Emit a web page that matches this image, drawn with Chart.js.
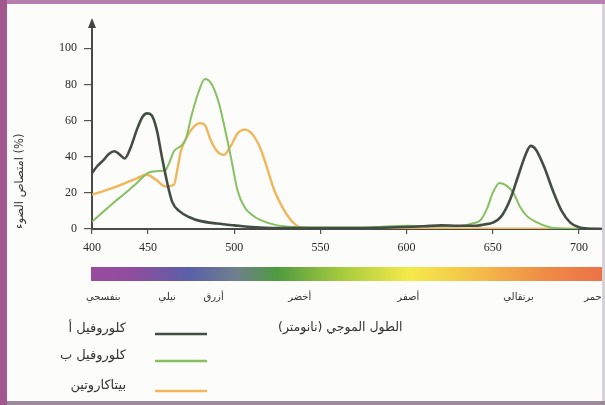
<!DOCTYPE html>
<html lang="ar">
<head>
    <meta charset="UTF-8">
    <title>امتصاص الضوء</title>
    <script src="https://cdn.jsdelivr.net/npm/chart.js"></script>
    <style>
        body {
            margin: 0;
            background: #fcfcfa;
            width: 605px;
            height: 405px;
            overflow: hidden;
            position: relative;
            font-family: "DejaVu Sans", sans-serif;
        }
        .box { position: absolute; left: 0; top: 0; width: 605px; height: 405px; }
        /* page edges of the scan */
        .edge { position: absolute; }
        .edge.left { left: 0; top: 0; width: 7px; height: 405px; background: #a2588f; }
        .edge.top { left: 0; top: 0; width: 605px; height: 4px; background: #b67fad; }
        .edge.bottom { left: 0; bottom: 0; width: 605px; height: 4px; background: #9c8a9c; }
        .edge.right { right: 0; top: 0; width: 3px; height: 405px; background: #d6d3d6; }
    </style>
</head>
<body>
    <div class="box"><canvas id="absorb"></canvas></div>
    <div class="edge right"></div>
    <div class="edge top"></div>
    <div class="edge bottom"></div>
    <div class="edge left"></div>

    <script>
        // wavelength (nm) / absorption (%)
        var chlA_nm  = [400, 405, 410, 415, 420, 425, 429, 435, 440, 445, 449, 452, 455, 458, 461, 464, 468, 474, 480, 490, 500, 515, 530, 560, 590, 610, 620, 630, 640, 645, 650, 655, 660, 665, 669, 672, 675, 680, 685, 690, 695, 700, 705, 714];
        var chlA_val = [31, 35, 38, 41.5, 43, 41, 39, 46, 55, 62, 64, 63, 55, 40, 26, 15, 10, 6.5, 4.5, 3, 2, 0.8, 0.5, 0.5, 0.8, 1.5, 2, 1.8, 1.8, 2.5, 3.5, 7, 16, 30, 41, 46, 44, 34, 21, 10, 3.5, 1, 0.3, 0];

        var chlB_nm  = [400, 410, 420, 430, 440, 450, 455, 460, 462, 465, 469, 472, 475, 479, 483, 487, 491, 494, 498, 502, 506, 510, 515, 525, 540, 560, 580, 600, 615, 630, 638, 643, 647, 650, 654, 658, 662, 666, 670, 675, 683, 690, 714];
        var chlB_val = [4, 9.5, 15, 20, 25.5, 31, 32, 32.5, 36, 43, 46, 50, 62, 75, 83, 80, 70, 58, 40, 21, 12, 8, 5, 2, 1, 0.8, 1, 1.8, 1.5, 1.5, 3, 5, 12, 20, 25.5, 24, 20, 12, 7, 4, 1, 0.3, 0];

        var carot_nm  = [400, 410, 420, 430, 440, 448, 451, 455, 460, 465, 467, 469, 472, 476, 480, 483, 486, 490, 494, 498, 502, 506, 510, 515, 519, 523, 528, 532, 536, 540, 560, 714];
        var carot_val = [19, 21, 23, 25.5, 28, 30, 29.5, 27, 23.5, 24.5, 33, 43, 50, 56, 58.5, 57.5, 50, 43, 41, 46, 53, 55, 53, 45, 34, 22, 12, 6, 2, 0.5, 0.3, 0];

        var seriesNames = ['كلوروفيل أ', 'كلوروفيل ب', 'بيتاكاروتين'];
        var yTicks = [0, 20, 40, 60, 80, 100];
        var xTicks = [400, 450, 500, 550, 600, 650, 700];

        // colour names under the spectrum bar, placed at a wavelength
        var colourNames = ['بنفسجي', 'نيلي', 'أزرق', 'أخضر', 'أصفر', 'برتقالي', 'أحمر'];
        var colourAt_nm = [410, 461, 488, 538, 601, 665, 709];

        // the printed axis squeezes 400-450 compared with the rest
        var KNEE_NM = 450;
        var KNEE_SQUEEZE = 0.651;

        class PiecewiseScale extends Chart.LinearScale {
            _frac(v) {
                var a = this.min, b = this.max;
                var total = (KNEE_NM - a) * KNEE_SQUEEZE + (b - KNEE_NM);
                if (v <= KNEE_NM) return (v - a) * KNEE_SQUEEZE / total;
                return ((KNEE_NM - a) * KNEE_SQUEEZE + (v - KNEE_NM)) / total;
            }
            getPixelForValue(value) {
                if (value === null || value === undefined) return NaN;
                return this.getPixelForDecimal(this._frac(value));
            }
            getValueForPixel(pixel) {
                var d = this.getDecimalForPixel(pixel);
                var a = this.min, b = this.max;
                var total = (KNEE_NM - a) * KNEE_SQUEEZE + (b - KNEE_NM);
                var kd = (KNEE_NM - a) * KNEE_SQUEEZE / total;
                if (d <= kd) return a + d * total / KNEE_SQUEEZE;
                return KNEE_NM + (d - kd) * total;
            }
        }
        PiecewiseScale.id = 'piecewise';
        PiecewiseScale.defaults = Chart.LinearScale.defaults;
        Chart.register(PiecewiseScale);

        function pts(xs, ys) {
            return xs.map(function (x, i) { return { x: x, y: ys[i] }; });
        }

        // arrow on top of the y axis, spectrum bar, colour names, legend
        var extras = {
            id: 'extras',
            afterDraw: function (chart) {
                var c = chart.ctx, ca = chart.chartArea, xs = chart.scales.x;
                c.save();

                c.fillStyle = '#444';
                c.beginPath();
                c.moveTo(ca.left, ca.top - 5);
                c.lineTo(ca.left - 4, ca.top + 5);
                c.lineTo(ca.left + 4, ca.top + 5);
                c.closePath();
                c.fill();

                var g = c.createLinearGradient(ca.left, 0, ca.right + 2, 0);
                g.addColorStop(0.00, '#9a4c9e');
                g.addColorStop(0.08, '#8f4d9f');
                g.addColorStop(0.19, '#5a60a8');
                g.addColorStop(0.28, '#6f7f8e');
                g.addColorStop(0.36, '#4f9a40');
                g.addColorStop(0.49, '#a8cc3e');
                g.addColorStop(0.62, '#f5ea4a');
                g.addColorStop(0.74, '#f3c24a');
                g.addColorStop(0.88, '#ef8c46');
                g.addColorStop(1.00, '#ec7048');
                c.fillStyle = g;
                c.fillRect(ca.left - 1, 267, ca.right - ca.left + 3, 14);

                c.fillStyle = '#333';
                c.font = '10px "DejaVu Sans"';
                c.textAlign = 'center';
                c.textBaseline = 'middle';
                colourNames.forEach(function (t, i) {
                    c.fillText(t, xs.getPixelForValue(colourAt_nm[i]), 297);
                });

                c.font = '12.5px "DejaVu Sans"';
                c.direction = 'rtl';
                c.textAlign = 'left';
                c.fillText('الطول الموجي (نانومتر)', 278, 328);

                var rowY = [329, 356, 386];
                c.textAlign = 'right';
                c.font = '13px "DejaVu Sans"';
                chart.data.datasets.forEach(function (ds, i) {
                    c.fillStyle = '#333';
                    c.fillText(ds.label, 126, rowY[i]);
                    c.strokeStyle = ds.borderColor;
                    c.lineWidth = 2.5;
                    c.beginPath();
                    c.moveTo(155, rowY[i] + 5);
                    c.lineTo(207, rowY[i] + 5);
                    c.stroke();
                });
                c.restore();
            }
        };

        var ctx = document.getElementById('absorb').getContext('2d');
        new Chart(ctx, {
            type: 'line',
            data: {
                datasets: [
                    { label: seriesNames[0], data: pts(chlA_nm, chlA_val), borderColor: '#434d44', borderWidth: 2.6 },
                    { label: seriesNames[1], data: pts(chlB_nm, chlB_val), borderColor: '#86c061', borderWidth: 2 },
                    { label: seriesNames[2], data: pts(carot_nm, carot_val), borderColor: '#f1b65a', borderWidth: 2.4 }
                ]
            },
            options: {
                responsive: true,
                maintainAspectRatio: false,
                animation: false,
                cubicInterpolationMode: 'monotone',
                pointRadius: 0,
                layout: { padding: { top: 23, right: 2, bottom: 143, left: 0 } },
                plugins: { legend: { display: false }, tooltip: { enabled: false } },
                scales: {
                    x: {
                        type: 'piecewise',
                        min: 400,
                        max: 714,
                        afterFit: function (s) { s.height = 33; },
                        afterBuildTicks: function (s) { s.ticks = xTicks.map(function (v) { return { value: v }; }); },
                        ticks: { autoSkip: false, maxRotation: 0, padding: 7, color: '#2a2a2a',
                                 font: { family: 'Liberation Serif', size: 12 } },
                        grid: { drawOnChartArea: false, tickLength: 5, color: '#555', lineWidth: 1.2 },
                        border: { color: '#4a4a4a', width: 2 }
                    },
                    y: {
                        min: 0,
                        max: 114,
                        afterFit: function (s) { s.width = 92; },
                        afterBuildTicks: function (s) { s.ticks = yTicks.map(function (v) { return { value: v }; }); },
                        ticks: { padding: 7, color: '#2a2a2a', font: { family: 'Liberation Serif', size: 12 } },
                        grid: { drawOnChartArea: false, tickLength: 8, color: '#555', lineWidth: 1.2 },
                        border: { color: '#4a4a4a', width: 2 },
                        title: {
                            display: true,
                            text: 'امتصاص الضوء (%)',
                            align: 'start',
                            color: '#333',
                            padding: { top: 13, bottom: 0 },
                            font: { family: 'DejaVu Sans', size: 11.5 }
                        }
                    }
                }
            },
            plugins: [extras]
        });
    </script>
</body>
</html>
